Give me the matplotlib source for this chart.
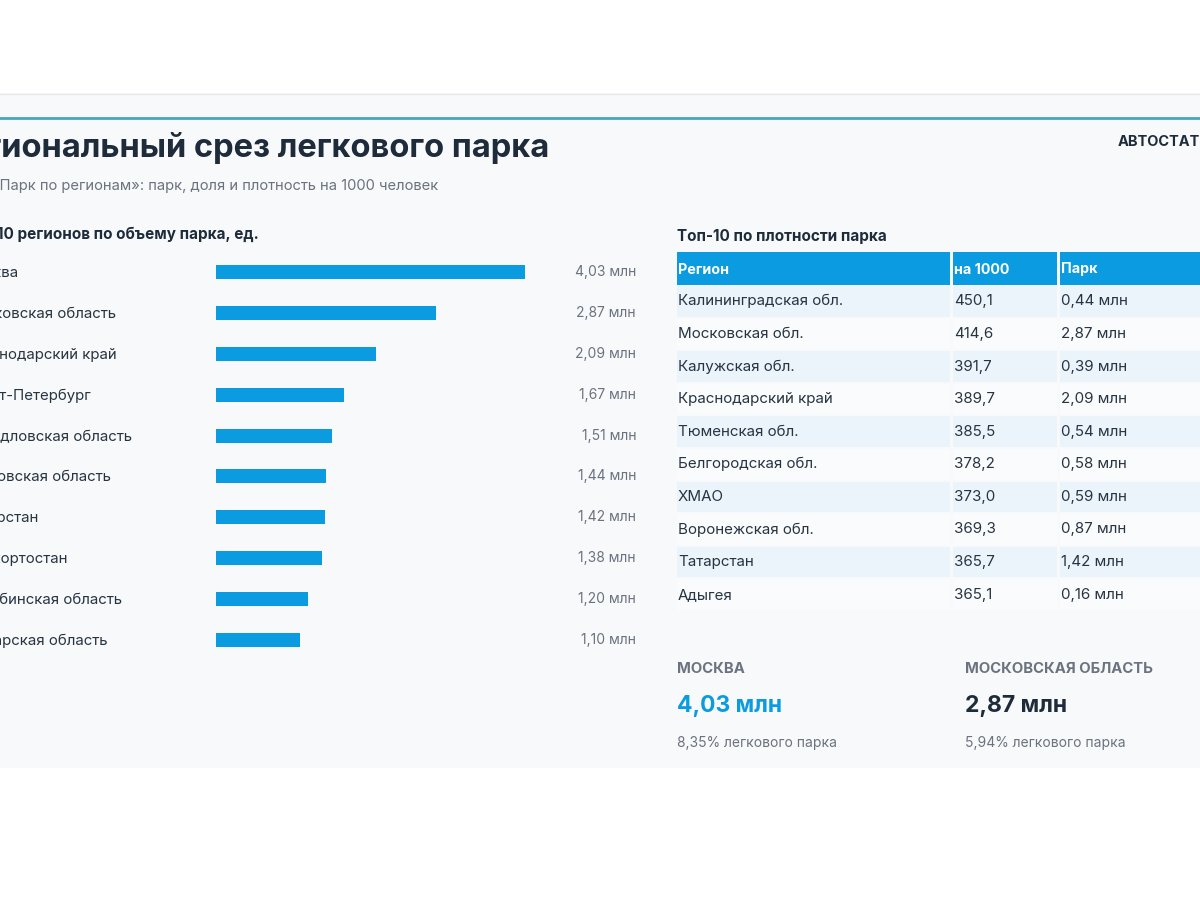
import matplotlib
matplotlib.use("Agg")
import matplotlib.pyplot as plt
from matplotlib.patches import Rectangle

plt.rcParams['font.family'] = ['Inter', 'DejaVu Sans']

# Top-10 regions by fleet volume, mln cars
regions = ["Москва", "Московская область", "Краснодарский край", "Санкт-Петербург",
           "Свердловская область", "Ростовская область", "Татарстан", "Башкортостан",
           "Челябинская область", "Самарская область"]
fleet = [4.03, 2.87, 2.09, 1.67, 1.51, 1.44, 1.42, 1.38, 1.20, 1.10]

# Top-10 by density (cars per 1000 people)
dens_regions = ["Калининградская обл.", "Московская обл.", "Калужская обл.",
                "Краснодарский край", "Тюменская обл.", "Белгородская обл.", "ХМАО",
                "Воронежская обл.", "Татарстан", "Адыгея"]
per_1000 = [450.1, 414.6, 391.7, 389.7, 385.5, 378.2, 373.0, 369.3, 365.7, 365.1]
dens_fleet = [0.44, 2.87, 0.39, 2.09, 0.54, 0.58, 0.59, 0.87, 1.42, 0.16]
table_header = ["Регион", "на 1000", "Парк"]

# KPI cards
kpi_names = ["МОСКВА", "МОСКОВСКАЯ ОБЛАСТЬ"]
kpi_values = ["4,03 млн", "2,87 млн"]
kpi_shares = ["8,35% легкового парка", "5,94% легкового парка"]

BLUE = "#0b9be0"
DARK = "#1d2b3a"
GREY = "#6b7280"

def fmt(v, d):
    return f"{v:.{d}f}".replace(".", ",")

fig = plt.figure(figsize=(12, 9), dpi=100)
fig.patch.set_facecolor("white")

# pixel-space background axes
bg = fig.add_axes([0, 0, 1, 1])
bg.set_xlim(0, 1200)
bg.set_ylim(900, 0)
bg.axis("off")

# slide area
bg.add_patch(Rectangle((0, 93), 1200, 675, facecolor="#f8f9fa", edgecolor="none"))
bg.plot([0, 1200], [93.5, 93.5], color="#e6e8eb", lw=1)
bg.plot([0, 1200], [118, 118], color="#4aa5bb", lw=2)

# titles
bg.text(-54, 148, "Региональный срез легкового парка", fontsize=23.5, fontweight="bold",
        color=DARK, va="center", ha="left")
bg.text(1118, 142, "АВТОСТАТ", fontsize=10.5, fontweight="bold", color=DARK,
        va="center", ha="left")
bg.text(-9, 186, "«Парк по регионам»: парк, доля и плотность на 1000 человек",
        fontsize=10.6, color=GREY, va="center", ha="left")
bg.text(-39, 234, "Топ-10 регионов по объему парка, ед.", fontsize=11,
        fontweight="bold", color=DARK, va="center", ha="left")
bg.text(677, 236, "Топ-10 по плотности парка", fontsize=11, fontweight="bold",
        color=DARK, va="center", ha="left")

# bar chart: x=0 at 216px, 76.7px per mln, rows 40.8px from y=252
px_per = 76.7
top, row_h = 252, 40.8
n = len(regions)
ax = fig.add_axes([216 / 1200, 1 - (top + n * row_h) / 900,
                   5 * px_per / 1200, n * row_h / 900])
ax.barh(range(n), fleet, height=14 / row_h, color=BLUE)
ax.set_xlim(0, 5)
ax.set_ylim(n - 0.5, -0.5)
ax.axis("off")
ax.patch.set_alpha(0)

for i, (name, v) in enumerate(zip(regions, fleet)):
    y = top + row_h * (i + 0.5)
    bg.text(-37, y + 1, name, fontsize=10.8, color="#273442", va="center", ha="left")
    bg.text(636, y, fmt(v, 2) + " млн", fontsize=10, color=GREY, va="center", ha="right")

# density table
cols = [(677, 950), (953, 1057), (1060, 1215)]
head_y, head_h, tr_h = 252, 33, 32.6
for (x0, x1), h in zip(cols, table_header):
    bg.add_patch(Rectangle((x0, head_y), x1 - x0, head_h, facecolor=BLUE, edgecolor="none"))
    bg.text(x0 + 1, head_y + head_h / 2 + 1, h, fontsize=10.3, fontweight="bold",
            color="white", va="center", ha="left")

for i, (r, d, f) in enumerate(zip(dens_regions, per_1000, dens_fleet)):
    y0 = head_y + head_h + tr_h * i
    fc = "#eaf4fa" if i % 2 == 0 else "#fafbfc"
    for (x0, x1), t in zip(cols, [r, fmt(d, 1), fmt(f, 2) + " млн"]):
        bg.add_patch(Rectangle((x0, y0 + 1), x1 - x0, tr_h - 2, facecolor=fc, edgecolor="none"))
        bg.text(x0 + 1, y0 + tr_h / 2, t, fontsize=10.9, color="#273442",
                va="center", ha="left")

# KPI cards
for k, x in enumerate([677, 965]):
    bg.text(x, 669, kpi_names[k], fontsize=10.7, fontweight="bold", color="#6b7380",
            va="center", ha="left")
    bg.text(x, 706, kpi_values[k], fontsize=16.5, fontweight="bold",
            color=BLUE if k == 0 else DARK, va="center", ha="left")
    bg.text(x, 743, kpi_shares[k], fontsize=10, color=GREY, va="center", ha="left")

fig.savefig("out.png", dpi=100)
